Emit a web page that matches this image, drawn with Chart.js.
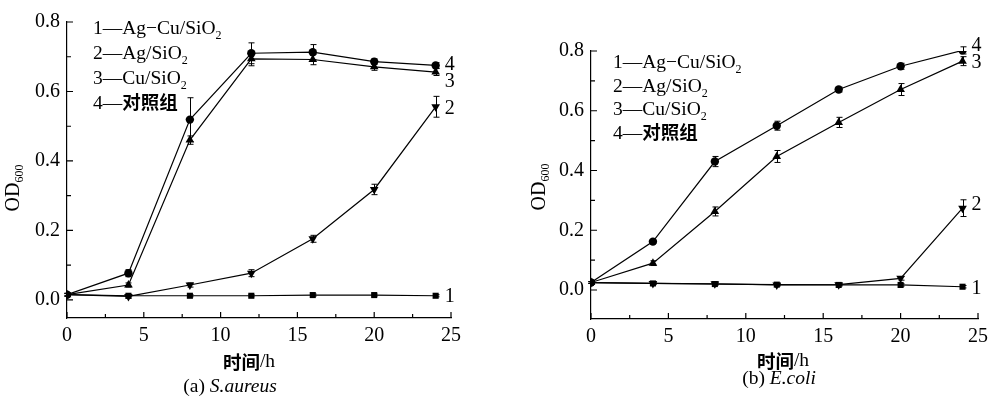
<!DOCTYPE html>
<html>
<head>
<meta charset="utf-8">
<script src="https://cdn.jsdelivr.net/npm/chart.js@4.4.1/dist/chart.umd.min.js"></script>
<style>
  html, body { margin: 0; padding: 0; background: #fff; }
  #wrap { position: relative; width: 1000px; height: 398px; }
  .panel { position: absolute; top: 0; width: 500px; height: 398px; }
</style>
</head>
<body>
<div id="wrap">
  <div class="panel" style="left:0"><canvas id="chartA" width="500" height="398"></canvas></div>
  <div class="panel" style="left:500px"><canvas id="chartB" width="500" height="398"></canvas></div>
</div>
<script>
// ---------------- Data ----------------
const hours = [0, 4, 8, 12, 16, 20, 24];
const xTicks = [0, 5, 10, 15, 20, 25];
const yTicks = [0, 0.2, 0.4, 0.6, 0.8];
const legendLabels = ["1—Ag−Cu/SiO_2", "2—Ag/SiO_2", "3—Cu/SiO_2", "4—对照组"];
const seriesNames = ["1", "2", "3", "4"];
const yTitle = "OD_600";
const xTitle = "时间/h";

// (a) S.aureus
const aureusAgCu = [0.015, 0.012, 0.012, 0.012, 0.014, 0.014, 0.012];
const aureusAg   = [0.015, 0.010, 0.043, 0.077, 0.176, 0.318, 0.556];
const aureusCu   = [0.015, 0.043, 0.460, 0.694, 0.692, 0.671, 0.656];
const aureusCtrl = [0.015, 0.077, 0.519, 0.710, 0.713, 0.686, 0.675];
const aureusErrAgCu = [0.003, 0.003, 0.003, 0.003, 0.003, 0.003, 0.003];
const aureusErrAg   = [0.004, 0.005, 0.006, 0.010, 0.010, 0.015, 0.030];
const aureusErrCu   = [0.004, 0.006, 0.012, 0.020, 0.015, 0.010, 0.010];
const aureusErrCtrl = [0.004, 0.010, 0.063, 0.030, 0.022, 0.008, 0.008];

// (b) E.coli
const coliAgCu = [0.025, 0.022, 0.020, 0.018, 0.017, 0.017, 0.011];
const coliAg   = [0.025, 0.022, 0.021, 0.017, 0.018, 0.039, 0.274];
const coliCu   = [0.025, 0.090, 0.263, 0.447, 0.561, 0.671, 0.766];
const coliCtrl = [0.025, 0.162, 0.430, 0.550, 0.671, 0.749, 0.802];
const coliErrAgCu = [0.003, 0.003, 0.003, 0.003, 0.003, 0.004, 0.004];
const coliErrAg   = [0.003, 0.004, 0.004, 0.004, 0.004, 0.006, 0.028];
const coliErrCu   = [0.003, 0.008, 0.015, 0.020, 0.017, 0.020, 0.015];
const coliErrCtrl = [0.003, 0.005, 0.017, 0.015, 0.008, 0.010, 0.012];

// ---------------- Helpers ----------------
const SERIF = "'Liberation Serif', 'Times New Roman', serif";
const CJK = "'Noto Sans CJK SC', sans-serif";

// split "4—对照组" / "SiO_2" / "*S.aureus*" into styled runs
function runsOf(text, size) {
    const parts = text.split(/(_\d+|[\u4e00-\u9fff]+|\*[^*]+\*)/).filter(s => s);
    return parts.map(t => {
        if (t[0] === "_") return { t: t.slice(1), f: `${Math.round(size * 0.62)}px ${SERIF}`, dy: size * 0.28 };
        if (t[0] === "*") return { t: t.slice(1, -1), f: `italic ${size}px ${SERIF}`, dy: 0 };
        if (/[\u4e00-\u9fff]/.test(t)) return { t: t, f: `bold ${size - 1}px ${CJK}`, dy: 0 };
        return { t: t, f: `${size}px ${SERIF}`, dy: 0 };
    });
}

function runsWidth(ctx, runs) {
    return runs.reduce((w, r) => { ctx.font = r.f; return w + ctx.measureText(r.t).width; }, 0);
}

function drawRuns(ctx, text, x, y, size, align) {
    const runs = runsOf(text, size);
    let cx = x;
    if (align === "center") cx = x - runsWidth(ctx, runs) / 2;
    ctx.textAlign = "left";
    runs.forEach(r => {
        ctx.font = r.f;
        ctx.fillText(r.t, cx, y + r.dy);
        cx += ctx.measureText(r.t).width;
    });
}

// draws error bars, inward ticks, legend, end labels and titles
const decor = {
    id: "decor",
    afterDatasetsDraw(chart, args, o) {
        const ctx = chart.ctx, xs = chart.scales.x, ys = chart.scales.y, area = chart.chartArea;
        ctx.save();
        ctx.strokeStyle = "#000";
        ctx.fillStyle = "#000";
        ctx.lineWidth = 1;

        // error bars
        chart.data.datasets.forEach((ds, i) => {
            ds.data.forEach((p, j) => {
                const e = o.errors[i][j];
                const px = Math.round(xs.getPixelForValue(p.x)) + 0.5;
                const top = ys.getPixelForValue(p.y + e), bot = ys.getPixelForValue(p.y - e);
                ctx.beginPath();
                ctx.moveTo(px, top); ctx.lineTo(px, bot);
                ctx.moveTo(px - 3, top); ctx.lineTo(px + 3, top);
                ctx.moveTo(px - 3, bot); ctx.lineTo(px + 3, bot);
                ctx.stroke();
            });
        });

        // inward ticks, major and minor
        ctx.lineWidth = 1.2;
        ctx.beginPath();
        for (let i = 0; i < xTicks.length; i++) {
            const px = xs.getPixelForValue(xTicks[i]);
            ctx.moveTo(px, area.bottom); ctx.lineTo(px, area.bottom - 6);
            if (i < xTicks.length - 1) {
                const mx = xs.getPixelForValue((xTicks[i] + xTicks[i + 1]) / 2);
                ctx.moveTo(mx, area.bottom); ctx.lineTo(mx, area.bottom - 4);
            }
        }
        for (let i = 0; i < yTicks.length; i++) {
            const py = ys.getPixelForValue(yTicks[i]);
            ctx.moveTo(area.left, py); ctx.lineTo(area.left + 6, py);
            if (i < yTicks.length - 1) {
                const my = ys.getPixelForValue((yTicks[i] + yTicks[i + 1]) / 2);
                ctx.moveTo(area.left, my); ctx.lineTo(area.left + 4, my);
            }
        }
        ctx.stroke();

        // legend text block
        ctx.textBaseline = "alphabetic";
        legendLabels.forEach((lab, i) => {
            drawRuns(ctx, lab, area.left + o.legendX, area.top + o.legendY + i * o.legendGap, 19.5);
        });

        // series number next to the last point
        ctx.textBaseline = "middle";
        chart.data.datasets.forEach((ds, i) => {
            const p = ds.data[ds.data.length - 1];
            ctx.font = `20px ${SERIF}`;
            ctx.textAlign = "left";
            ctx.fillText(seriesNames[i], xs.getPixelForValue(p.x) + o.endDx[i], ys.getPixelForValue(p.y) + o.endDy[i]);
        });

        // y title, rotated
        ctx.save();
        ctx.translate(o.yTitleX, o.yTitleY);
        ctx.rotate(-Math.PI / 2);
        drawRuns(ctx, yTitle, 0, 0, 20, "center");
        ctx.restore();

        // x title and caption
        drawRuns(ctx, xTitle, o.xTitleX, o.xTitleY, 19.5, "center");
        drawRuns(ctx, o.caption, o.xTitleX + o.captionDx, o.captionY, 19.5, "center");
        ctx.restore();
    }
};

const pointStyles = ["rect", "triangle", "triangle", "circle"];
const pointRotations = [0, 180, 0, 0];
const pointSizes = [4.3, 5, 5, 4.2];

function makeChart(canvasId, series, errors, cfg) {
    const datasets = series.map((vals, i) => ({
        label: seriesNames[i],
        data: hours.map((h, j) => ({ x: h, y: vals[j] })),
        borderColor: "#000",
        backgroundColor: "#000",
        borderWidth: 1.2,
        pointStyle: pointStyles[i],
        pointRotation: pointRotations[i],
        pointRadius: pointSizes[i],
        pointBorderWidth: 0,
        tension: 0,
        fill: false
    }));
    return new Chart(document.getElementById(canvasId), {
        type: "line",
        data: { datasets: datasets },
        options: {
            responsive: false,
            animation: false,
            devicePixelRatio: 1,
            layout: { padding: { left: 0, top: cfg.top, right: cfg.right, bottom: 0 } },
            plugins: {
                legend: { display: false },
                tooltip: { enabled: false },
                decor: Object.assign({ errors: errors }, cfg.decor)
            },
            scales: {
                x: {
                    type: "linear",
                    min: 0, max: 25,
                    afterBuildTicks: s => { s.ticks = xTicks.map(v => ({ value: v })); },
                    afterFit: s => { s.height = cfg.xHeight; },
                    grid: { display: false, drawTicks: false },
                    border: { display: true, color: "#000", width: 1.2 },
                    ticks: { color: "#000", padding: 6, maxRotation: 0, font: { family: "Liberation Serif", size: 20 } }
                },
                y: {
                    type: "linear",
                    min: cfg.yMin, max: 0.8,
                    afterBuildTicks: s => { s.ticks = yTicks.map(v => ({ value: v })); },
                    afterFit: s => { s.width = cfg.yWidth; },
                    grid: { display: false, drawTicks: false },
                    border: { display: true, color: "#000", width: 1.2 },
                    ticks: { color: "#000", padding: 7, callback: v => v.toFixed(1), font: { family: "Liberation Serif", size: 20 } }
                }
            }
        },
        plugins: [decor]
    });
}

makeChart("chartA",
    [aureusAgCu, aureusAg, aureusCu, aureusCtrl],
    [aureusErrAgCu, aureusErrAg, aureusErrCu, aureusErrCtrl],
    {
        top: 22, right: 49, xHeight: 80, yWidth: 67, yMin: -0.052,
        decor: {
            legendX: 26, legendY: 12, legendGap: 25,
            endDx: [9, 9, 9, 9], endDy: [1, 2, 10, -1],
            yTitleX: 14, yTitleY: 188,
            xTitleX: 249, xTitleY: 362, caption: "(a) *S.aureus*", captionDx: -19, captionY: 387
        }
    });

makeChart("chartB",
    [coliAgCu, coliAg, coliCu, coliCtrl],
    [coliErrAgCu, coliErrAg, coliErrCu, coliErrCtrl],
    {
        top: 51, right: 22, xHeight: 79, yWidth: 91, yMin: -0.097,
        decor: {
            legendX: 22, legendY: 17, legendGap: 23.5,
            endDx: [9, 9, 9, 9], endDy: [2, -3, 2, -5],
            yTitleX: 40, yTitleY: 187,
            xTitleX: 283, xTitleY: 361, caption: "(b) *E.coli*", captionDx: -4, captionY: 379
        }
    });
</script>
</body>
</html>
